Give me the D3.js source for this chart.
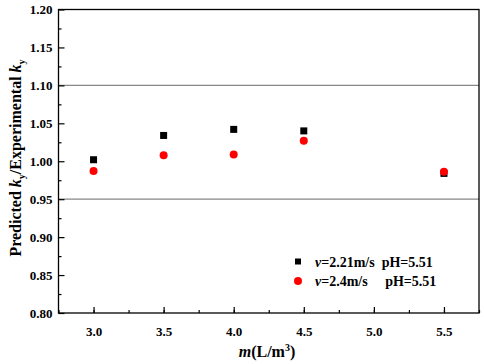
<!DOCTYPE html>
<html><head><meta charset="utf-8">
<script src="https://cdn.jsdelivr.net/npm/d3@7"></script>
<style>body{margin:0;background:#fff}svg{display:block}text{font-family:"Liberation Serif","Times New Roman",serif;font-weight:bold;white-space:pre}</style>
</head><body><svg id="c" width="484" height="364"></svg>
<script>
const mValues = [3.0, 3.5, 4.0, 4.5, 5.5];
const series1 = [1.002, 1.034, 1.042, 1.040, 0.984]; // v=2.21m/s
const series2 = [0.987, 1.008, 1.009, 1.027, 0.986]; // v=2.4m/s
const xTicks = [3.0, 3.5, 4.0, 4.5, 5.0, 5.5];
const yTicks = [0.80, 0.85, 0.90, 0.95, 1.00, 1.05, 1.10, 1.15, 1.20];
const refLines = [1.10, 0.95];

const svg = d3.select("#c");
const L = 58.5, R = 479, T = 9.5, B = 313;
const x = d3.scaleLinear().domain([2.75, 5.75]).range([L, R]);
const y = d3.scaleLinear().domain([0.80, 1.20]).range([B, T]);

svg.selectAll(".ref").data(refLines).enter().append("line")
  .attr("x1", L).attr("x2", R).attr("y1", d => y(d)).attr("y2", d => y(d))
  .attr("stroke", "#888").attr("stroke-width", 1.2);

svg.append("rect").attr("x", L).attr("y", T).attr("width", R - L).attr("height", B - T)
  .attr("fill", "none").attr("stroke", "#000").attr("stroke-width", 1.3);

const xMinor = d3.range(2.75, 5.76, 0.25);
const gx = svg.append("g").attr("transform", `translate(0,${B})`);
gx.call(d3.axisBottom(x).tickValues(xMinor).tickSize(-3).tickFormat(""))
  .call(g => g.select(".domain").remove());
gx.append("g").call(d3.axisBottom(x).tickValues(xTicks).tickSize(-6).tickFormat(d3.format(".1f")).tickPadding(14))
  .call(g => g.select(".domain").remove())
  .call(g => g.selectAll("text").attr("font-size", 13).attr("fill", "#000").attr("font-family", "Liberation Serif").attr("font-weight", "bold"));
gx.selectAll("line").attr("stroke", "#000").attr("stroke-width", 1.2);

const yMinor = d3.range(0.825, 1.2, 0.05);
const gy = svg.append("g").attr("transform", `translate(${L},0)`);
gy.call(d3.axisLeft(y).tickValues(yMinor).tickSize(-3).tickFormat(""))
  .call(g => g.select(".domain").remove());
gy.append("g").call(d3.axisLeft(y).tickValues(yTicks).tickSize(-6).tickFormat(d3.format(".2f")).tickPadding(6))
  .call(g => g.select(".domain").remove())
  .call(g => g.selectAll("text").attr("font-size", 13).attr("fill", "#000").attr("font-family", "Liberation Serif").attr("font-weight", "bold"));
gy.selectAll("line").attr("stroke", "#000").attr("stroke-width", 1.2);

const s = 7;
svg.selectAll(".sq").data(mValues).enter().append("rect")
  .attr("x", (d) => x(d) - s / 2).attr("y", (d, i) => y(series1[i]) - s / 2)
  .attr("width", s).attr("height", s).attr("fill", "#000");
svg.selectAll(".ci").data(mValues).enter().append("circle")
  .attr("cx", d => x(d)).attr("cy", (d, i) => y(series2[i])).attr("r", 4).attr("fill", "#ff0000");

const lg = svg.append("g");
lg.append("rect").attr("x", 295).attr("y", 258.5).attr("width", 6).attr("height", 6).attr("fill", "#000");
lg.append("circle").attr("cx", 298).attr("cy", 281).attr("r", 4).attr("fill", "#ff0000");
const t1 = lg.append("text").attr("x", 315).attr("y", 266.5).attr("font-size", 14);
t1.append("tspan").attr("font-style", "italic").text("v");
t1.append("tspan").text("=2.21m/s  pH=5.51");
const t2 = lg.append("text").attr("x", 315).attr("y", 285.5).attr("font-size", 14);
t2.append("tspan").attr("font-style", "italic").text("v");
t2.append("tspan").text("=2.4m/s     pH=5.51");

const xt = svg.append("text").attr("x", 267).attr("y", 357).attr("text-anchor", "middle").attr("font-size", 16);
xt.append("tspan").attr("font-style", "italic").text("m");
xt.append("tspan").text("(L/m");
xt.append("tspan").text("3").attr("font-size", 10).attr("dy", -6);
xt.append("tspan").text(")").attr("dy", 6);

const yt = svg.append("text").attr("transform", "translate(21,158) rotate(-90)").attr("text-anchor", "middle").attr("font-size", 16);
yt.append("tspan").text("Predicted ");
yt.append("tspan").attr("font-style", "italic").text("k");
yt.append("tspan").text("y").attr("font-size", 10).attr("dy", 4);
yt.append("tspan").text("/Experimental ").attr("dy", -4);
yt.append("tspan").attr("font-style", "italic").text("k");
yt.append("tspan").text("y").attr("font-size", 10).attr("dy", 4);
</script></body></html>
